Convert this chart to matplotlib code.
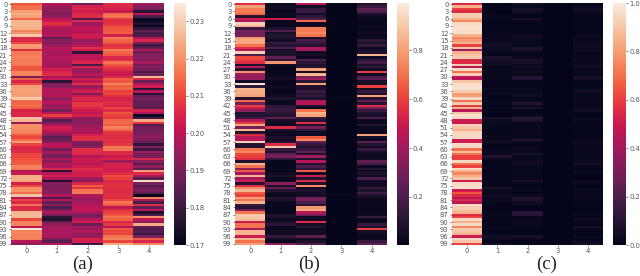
import matplotlib
matplotlib.use("Agg")
import matplotlib.pyplot as plt
import numpy as np
import seaborn as sns

a0 = [212,215,215,222,224,222,214,226,226,226, 225,218,221,229,205,205,210,222,221,207,
      217,217,218,217,217,216,212,212,219,218, 190,213,205,210,222,223,222,222,222,229,
      214,214,215,213,204,205,205,228,226,195, 220,220,219,218,212,210,215,222,210,205,
      205,206,210,210,211,212,213,218,217,198, 202,224,225,223,204,210,220,220,215,228,
      198,210,205,216,205,206,226,227,226,210, 218,218,200,234,218,218,218,217,199,193]
a1 = [199,195,193,193,191,194,200,202,207,203, 198,197,198,199,186,192,192,195,199,198,
      197,197,198,198,197,196,198,203,205,206, 198,201,177,192,192,199,198,198,200,192,
      198,199,192,198,189,199,209,197,184,190, 198,203,202,198,192,186,188,192,200,199,
      188,197,193,189,197,192,200,197,205,177, 200,204,198,175,192,191,191,192,191,199,
      183,199,186,192,183,190,198,188,178,175, 187,194,196,197,197,197,197,189,185,199]
a2 = [188,204,205,203,205,206,183,205,195,197, 201,199,199,203,202,194,196,198,207,203,
      178,200,200,202,205,182,204,196,194,200, 193,204,200,207,194,199,204,190,202,205,
      203,208,208,205,203,200,204,194,193,191, 195,196,197,198,204,206,206,191,190,192,
      206,206,205,199,203,202,199,203,206,204, 203,204,195,193,205,213,207,216,217,198,
      196,194,197,198,200,201,197,189,191,199, 204,187,197,194,198,192,195,204,203,180]
a3 = [206,205,204,202,215,216,208,206,207,210, 212,212,213,203,217,214,212,207,208,217,
      214,212,205,206,216,212,208,206,203,202, 205,213,212,218,213,214,209,210,207,204,
      205,206,204,210,206,212,209,208,214,215, 213,218,214,208,206,206,207,206,208,217,
      216,205,206,202,205,195,205,204,203,203, 206,211,209,205,206,207,207,206,206,207,
      206,210,216,213,200,207,209,212,216,213, 205,208,199,212,210,209,216,218,210,224]
a4 = [195,192,190,177,200,182,172,172,175,171, 178,186,182,183,198,205,190,180,186,198,
      188,192,192,191,197,190,192,190,183,189, 227,205,188,198,203,177,200,177,186,190,
      186,186,187,184,204,198,172,180,224,207, 185,188,189,190,192,193,190,188,178,192,
      180,195,190,190,205,193,185,194,185,222, 205,198,185,232,190,183,188,190,185,172,
      218,197,182,206,186,200,175,183,220,200, 192,224,186,183,184,180,190,213,205,218]

b0 = [55,80,72,72,68,10,50,40,92,85, 15,30,28,30,78,82,82,70,55,45,
      92,20,62,60,55,8,45,10,78,40, 35,38,5,97,12,85,83,82,80,10,
      68,30,60,50,35,8,10,15,45,60, 82,30,85,10,55,45,45,92,10,10,
      70,75,62,60,55,8,85,70,35,65, 40,85,40,50,10,55,75,85,65,60,
      80,70,85,15,10,30,70,90,90,88, 50,70,70,40,85,85,50,85,70,80]
b1 = [3,5,4,3,4,3,50,3,2,2, 8,20,6,10,8,5,15,10,20,6,
      8,8,25,12,78,5,2,2,2,3, 4,6,2,2,5,3,2,3,5,8,
      3,3,12,15,15,12,10,25,6,4, 4,55,8,4,3,8,6,10,55,90,
      15,8,25,30,12,2,2,2,3,2, 5,8,3,3,35,8,25,10,5,3,
      10,8,3,3,2,2,2,8,8,3, 6,12,3,3,5,4,15,6,2,35]
b2 = [45,5,15,15,5,12,20,68,3,5, 72,72,75,70,8,18,14,10,45,40,
      5,6,3,20,12,8,10,80,4,85, 30,40,12,80,8,8,15,10,15,8,
      42,45,8,2,70,85,80,15,10,55, 8,30,12,4,4,65,75,25,15,8,
      15,25,8,40,8,45,10,20,12,65, 5,50,10,55,8,75,5,8,6,6,
      30,30,20,10,78,82,45,30,5,5, 55,6,10,3,5,5,25,5,8,20]
b3 = [1,1,1,1,1,1,1,1,1,1, 1,1,1,1,1,1,1,1,1,1,
      1,1,1,1,1,1,1,1,1,1, 1,1,1,1,1,1,1,1,1,2,
      1,1,1,1,1,1,1,1,1,1, 1,1,1,1,1,1,1,1,1,1,
      1,1,1,1,1,1,1,1,1,1, 1,1,1,1,1,1,1,1,1,2,
      1,1,1,1,1,1,1,1,1,1, 1,1,1,1,1,1,1,1,1,1]
b4 = [8,15,25,20,8,4,2,2,2,3, 2,3,5,3,3,12,8,14,3,6,
      8,85,5,12,18,8,12,5,60,5, 20,25,6,6,60,4,15,8,80,10,
      25,10,55,30,15,8,6,20,3,3, 10,3,3,3,80,6,3,25,8,5,
      15,6,4,4,4,25,20,3,10,4, 8,5,20,5,4,5,15,8,18,8,
      5,3,3,3,3,2,3,3,15,3, 3,15,8,60,6,4,3,3,15,25]

c0 = [55,85,60,55,92,92,85,75,95,97, 97,97,97,85,75,80,85,60,90,40,
      85,90,92,55,55,92,45,95,70,92, 45,45,90,97,97,97,92,80,80,95,
      70,92,60,85,45,90,97,95,50,50, 93,90,85,95,95,95,50,50,95,95,
      70,88,70,60,60,95,70,60,95,85, 75,85,90,50,95,95,97,50,65,55,
      45,55,45,95,92,90,85,55,60,95, 85,95,75,92,90,85,50,95,90,60]
c1 = [1,1,1,1,1,2,2,1,1,1, 1,1,1,3,3,2,4,5,2,4,
      2,1,7,6,4,4,1,3,2,2, 3,2,1,1,1,2,2,3,1,1,
      2,1,1,2,1,1,1,6,4,2, 3,2,2,2,1,3,3,5,2,1,
      2,3,2,9,2,1,1,1,2,1, 1,1,2,2,1,1,7,2,2,4,
      3,4,2,1,1,1,2,3,2,1, 1,1,3,2,1,2,5,4,1,5]
c2 = [6,2,6,5,1,1,6,2,1,1, 1,1,1,4,4,2,2,2,8,7,
      2,2,3,7,6,3,5,3,4,2, 10,9,1,1,1,3,2,4,4,2,
      2,9,2,7,1,1,3,12,8,2, 2,2,3,3,2,2,9,3,1,2,
      3,2,6,3,2,4,4,2,2,2, 2,2,2,6,2,1,1,2,1,3,
      9,8,4,2,1,1,11,10,2,2, 3,3,1,2,1,1,6,3,1,2]
c3 = [0.5,0.5,0.5,0.5,0.5,0.5,0.5,0.5,0.5,0.5, 0.5,0.5,0.5,0.5,0.5,0.5,0.5,0.5,0.5,0.5,
      0.5,0.5,0.5,0.5,0.5,0.5,0.5,0.5,0.5,0.5, 0.5,0.5,0.5,0.5,0.5,0.5,0.5,0.5,0.5,0.5,
      0.5,0.5,0.5,0.5,0.5,0.5,0.5,0.5,0.5,0.5, 0.5,0.5,0.5,0.5,0.5,0.5,0.5,0.5,0.5,0.5,
      0.5,0.5,0.5,0.5,0.5,0.5,0.5,0.5,0.5,0.5, 0.5,0.5,0.5,0.5,0.5,0.5,0.5,0.5,0.5,1,
      0.5,0.5,0.5,0.5,0.5,0.5,0.5,0.5,0.5,0.5, 0.5,0.5,0.5,0.5,0.5,0.5,0.5,0.5,0.5,0.5]
c4 = [1,2,5,4,1,1,1,1,1,1, 1,1,1,3,2,3,3,4,2,4,
      3,2,2,4,3,4,5,3,2,2, 6,6,1,1,1,3,4,2,2,3,
      3,2,3,2,5,1,1,3,2,2, 2,1,1,1,1,1,3,4,2,2,
      3,2,2,2,2,3,5,2,1,3, 2,1,1,4,2,1,3,2,2,3,
      2,1,1,1,1,1,2,3,1,4, 2,1,5,3,1,1,2,1,3,5]

col_labels = ["0", "1", "2", "3", "4"]
row_labels = [str(i) for i in range(0, 100, 3)]
panel_names = ["(a)", "(b)", "(c)"]

W, H = 640, 276
FG = "#555555"
fig = plt.figure(figsize=(W / 100, H / 100), dpi=100)

def box(x0, x1, y0, y1):
    return [x0 / W, 1 - y1 / H, (x1 - x0) / W, (y1 - y0) / H]

panels = [
    (np.array([a0, a1, a2, a3, a4]).T / 1000, 0.170, 0.2349, [0.17, 0.18, 0.19, 0.20, 0.21, 0.22, 0.23],
     "%.2f", (11, 164), (174, 186), 83),
    (np.array([b0, b1, b2, b3, b4]).T / 100, 0.004, 0.992, [0.2, 0.4, 0.6, 0.8],
     "%.1f", (235, 387), (397, 409), 309),
    (np.array([c0, c1, c2, c3, c4]).T / 100, 0.0, 1.0, [0.0, 0.2, 0.4, 0.6, 0.8, 1.0],
     "%.1f", (452, 603), (613, 626), 547),
]
cmap = sns.color_palette("rocket", as_cmap=True)
top, bottom = 3, 245

for (data, vmin, vmax, cticks, fmt, (x0, x1), (c0_, c1_), lx), name in zip(panels, panel_names):
    ax = fig.add_axes(box(x0, x1, top, bottom))
    mesh = ax.pcolormesh(data, cmap=cmap, vmin=vmin, vmax=vmax, rasterized=True)
    ax.set_ylim(100, 0)
    ax.set_xticks(np.arange(5) + 0.5, col_labels)
    ax.set_yticks(np.arange(0, 100, 3) + 0.5, row_labels)
    ax.tick_params(axis="both", labelsize=4.9, length=1.5, width=0.5, pad=1,
                   colors=FG, labelcolor=FG)
    for s in ax.spines.values():
        s.set_visible(False)
    cax = fig.add_axes(box(c0_, c1_, top, bottom))
    cb = fig.colorbar(mesh, cax=cax)
    cb.set_ticks(cticks)
    cb.ax.yaxis.set_major_formatter(matplotlib.ticker.FormatStrFormatter(fmt))
    cb.ax.tick_params(labelsize=4.9, length=1.5, width=0.5, pad=1, colors=FG, labelcolor=FG)
    cb.outline.set_visible(False)
    fig.text(lx / W, 1 - 264 / H, name, family="Liberation Serif", fontsize=13.5,
             color="#222222", ha="center", va="center")

fig.savefig("out.png", dpi=100)
